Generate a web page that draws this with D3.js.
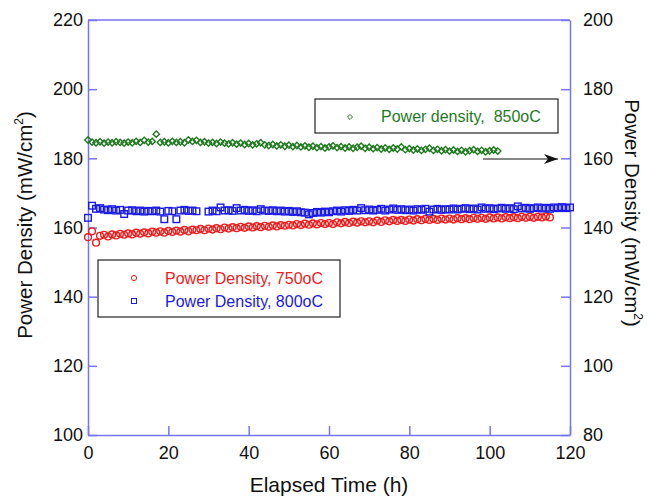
<!DOCTYPE html>
<html>
<head>
<meta charset="utf-8">
<script src="https://d3js.org/d3.v7.min.js"></script>
<style>
  body { margin: 0; background: #fff; }
  text { font-family: "Liberation Sans", Arial, sans-serif; }
</style>
</head>
<body>
<div id="chart"></div>
<script>
// elapsed time (h), one sample per hour
var hours = [0,1,2,3,4,5,6,7,8,9,10,11,12,13,14,15,16,17,18,19,20,21,22,23,24,25,26,27,28,29,
  30,31,32,33,34,35,36,37,38,39,40,41,42,43,44,45,46,47,48,49,50,51,52,53,54,55,56,57,58,59,
  60,61,62,63,64,65,66,67,68,69,70,71,72,73,74,75,76,77,78,79,80,81,82,83,84,85,86,87,88,89,
  90,91,92,93,94,95,96,97,98,99,100,101,102,103,104,105,106,107,108,109,110,111,112,113,114,115,116,117,118,119,120];

// 750oC, left axis
var pd750 = [157.2,158.9,155.6,157.6,157.9,157.4,158.0,157.7,158.2,157.9,
  158.3,158.0,158.5,158.2,158.6,158.3,158.8,158.5,158.9,158.5,
  159.0,158.7,159.1,158.8,159.3,158.9,159.4,159.2,159.6,159.2,
  159.7,159.4,159.8,159.5,160.0,159.7,160.1,159.8,160.2,159.9,
  160.3,160.0,160.4,160.1,160.5,160.2,160.6,160.3,160.7,160.5,
  160.8,160.6,161.0,160.7,161.1,160.8,161.2,160.9,161.3,161.0,
  161.3,161.0,161.5,161.2,161.6,161.3,161.7,161.4,161.8,161.5,
  161.8,161.5,162.0,161.6,162.1,161.8,162.2,161.9,162.2,161.9,
  162.3,162.0,162.4,162.1,162.5,162.2,162.5,162.2,162.6,162.3,
  162.6,162.3,162.7,162.4,162.7,162.4,162.8,162.5,162.8,162.5,
  162.9,162.6,162.9,162.6,163.0,162.7,163.0,162.7,163.1,162.8,
  163.1,162.8,163.1,162.9,163.2,162.9];

// 800oC, left axis (null = no data)
var pd800 = [162.8,166.3,165.4,165.6,165.2,165.0,165.3,164.9,165.1,163.9,
  164.9,165.0,164.7,164.9,164.6,164.8,164.7,164.9,164.6,162.4,
  164.8,164.7,162.4,164.9,165.1,164.8,164.9,164.7,null,null,
  164.6,164.9,164.7,165.8,164.9,165.0,164.8,165.6,164.9,165.1,
  164.8,165.0,164.7,165.3,164.9,164.8,165.0,164.7,164.9,164.6,
  164.8,164.5,164.7,164.4,164.3,163.8,164.2,164.5,164.3,164.6,
  164.4,164.7,164.9,164.6,165.0,164.8,165.1,164.9,165.6,165.0,
  165.2,164.9,165.1,165.4,164.9,165.2,165.5,165.1,165.3,165.0,
  165.2,164.9,165.3,165.1,165.4,164.6,165.2,165.4,165.1,165.3,
  165.2,165.5,165.2,165.4,165.6,165.3,165.5,165.2,165.8,165.4,
  165.6,165.3,165.5,165.7,165.4,165.6,165.3,166.1,165.5,165.7,
  165.4,165.6,165.8,165.5,165.7,165.4,165.8,165.6,165.9,165.6,165.8];

// 850oC, right axis
var pd850 = [165.3,164.7,164.5,164.8,164.4,164.7,164.5,164.8,164.6,164.4,
  164.7,164.5,164.9,164.6,165.2,164.7,164.9,167.0,164.6,164.8,
  164.5,164.9,164.6,164.8,164.5,165.3,164.9,165.2,164.6,164.8,
  164.4,164.6,164.3,164.7,164.4,164.2,164.5,164.1,164.4,164.0,
  164.3,163.9,164.2,164.5,163.9,163.7,164.0,163.6,163.9,163.5,
  163.8,163.4,163.7,163.3,163.6,163.2,163.5,163.1,163.4,163.0,
  163.3,163.6,163.1,163.4,163.0,163.3,162.9,163.2,163.5,162.9,
  163.2,162.8,163.1,162.7,163.0,162.6,163.0,162.7,163.3,162.5,
  162.8,162.4,162.7,162.3,162.6,162.9,162.3,162.6,162.2,162.5,
  162.1,162.4,162.0,162.3,161.9,162.2,162.5,162.0,162.3,161.9,
  162.2,162.4,162.1];

var xTicks = [0, 20, 40, 60, 80, 100, 120];
var yLeftTicks = [100, 120, 140, 160, 180, 200, 220];
var yRightTicks = [80, 100, 120, 140, 160, 180, 200];

var width = 649, height = 496;
var margin = {top: 20, right: 79, bottom: 61, left: 88};
var axisColor = "#7676f0";

var svg = d3.select("#chart")
    .append("svg")
    .attr("width", width)
    .attr("height", height);

var x = d3.scaleLinear().domain([0, 120]).range([margin.left, width - margin.right]);
var yL = d3.scaleLinear().domain([100, 220]).range([height - margin.bottom, margin.top]);
var yR = d3.scaleLinear().domain([80, 200]).range([height - margin.bottom, margin.top]);

// axes, ticks pointing inward
function styleAxis(g) {
  g.select(".domain").attr("stroke", axisColor).attr("stroke-width", 1.5);
  g.selectAll(".tick line").attr("stroke", axisColor).attr("stroke-width", 1.5);
  g.selectAll(".tick text").attr("fill", "#111").attr("font-size", "18px")
    .attr("font-family", "Liberation Sans, Arial, sans-serif");
}

svg.append("g")
   .attr("transform", "translate(0," + (height - margin.bottom) + ")")
   .call(d3.axisBottom(x).tickValues(xTicks).tickSizeInner(-9).tickSizeOuter(0).tickPadding(11))
   .call(styleAxis);

svg.append("g")
   .attr("transform", "translate(" + margin.left + ",0)")
   .call(d3.axisLeft(yL).tickValues(yLeftTicks).tickSizeInner(-9).tickSizeOuter(0).tickPadding(5))
   .call(styleAxis);

svg.append("g")
   .attr("transform", "translate(" + (width - margin.right) + ",0)")
   .call(d3.axisRight(yR).tickValues(yRightTicks).tickSizeInner(-9).tickSizeOuter(0).tickPadding(13))
   .call(styleAxis);

// top frame line
svg.append("line")
   .attr("x1", margin.left).attr("x2", width - margin.right)
   .attr("y1", margin.top).attr("y2", margin.top)
   .attr("stroke", axisColor).attr("stroke-width", 1.5);

// markers
var red = "#ee1c1c", blue = "#1a1ae6", green = "#1f7a1f";

svg.append("g").selectAll("circle")
   .data(pd750)
   .enter().append("circle")
   .attr("cx", function(d, i) { return x(hours[i]); })
   .attr("cy", function(d) { return yL(d); })
   .attr("r", 3.4)
   .attr("fill", "none")
   .attr("stroke", red)
   .attr("stroke-width", 1.4);

svg.append("g").selectAll("rect")
   .data(pd800.map(function(d, i) { return {t: hours[i], v: d}; }).filter(function(d) { return d.v != null; }))
   .enter().append("rect")
   .attr("x", function(d) { return x(d.t) - 3.3; })
   .attr("y", function(d) { return yL(d.v) - 3.3; })
   .attr("width", 6.6)
   .attr("height", 6.6)
   .attr("fill", "none")
   .attr("stroke", blue)
   .attr("stroke-width", 1.4);

var diamond = d3.symbol().type(d3.symbolDiamond2).size(26);
svg.append("g").selectAll("path")
   .data(pd850)
   .enter().append("path")
   .attr("d", diamond)
   .attr("transform", function(d, i) { return "translate(" + x(hours[i]) + "," + yR(d) + ")"; })
   .attr("fill", "none")
   .attr("stroke", green)
   .attr("stroke-width", 1.4);

// legend for 850oC
svg.append("rect")
   .attr("x", 315).attr("y", 99).attr("width", 243).attr("height", 34)
   .attr("fill", "#fff").attr("stroke", "#222").attr("stroke-width", 1.2);
svg.append("path")
   .attr("d", d3.symbol().type(d3.symbolDiamond2).size(16))
   .attr("transform", "translate(350,117)")
   .attr("fill", "none").attr("stroke", green).attr("stroke-width", 1);
svg.append("text")
   .attr("x", 381).attr("y", 122)
   .attr("font-size", "16px").attr("fill", green)
   .attr("xml:space", "preserve")
   .text("Power density,  850oC");

// arrow pointing to right axis
svg.append("defs").append("marker")
   .attr("id", "arrow")
   .attr("viewBox", "0 0 14 10")
   .attr("refX", 14).attr("refY", 5)
   .attr("markerWidth", 14).attr("markerHeight", 10)
   .attr("markerUnits", "userSpaceOnUse")
   .attr("orient", "auto")
   .append("path")
   .attr("d", "M0,0 L14,5 L0,10 L4,5 Z")
   .attr("fill", "#111");
svg.append("line")
   .attr("x1", 483).attr("x2", 558).attr("y1", 159).attr("y2", 159)
   .attr("stroke", "#111").attr("stroke-width", 1.2)
   .attr("marker-end", "url(#arrow)");

// legend for 750oC / 800oC
svg.append("rect")
   .attr("x", 98).attr("y", 260).attr("width", 242).attr("height", 57)
   .attr("fill", "#fff").attr("stroke", "#222").attr("stroke-width", 1.2);
svg.append("circle")
   .attr("cx", 134).attr("cy", 278).attr("r", 2.6)
   .attr("fill", "none").attr("stroke", red).attr("stroke-width", 1);
svg.append("rect")
   .attr("x", 131.5).attr("y", 298.5).attr("width", 5).attr("height", 5)
   .attr("fill", "none").attr("stroke", blue).attr("stroke-width", 1);
svg.append("text")
   .attr("x", 165).attr("y", 284)
   .attr("font-size", "16px").attr("fill", red)
   .text("Power Density, 750oC");
svg.append("text")
   .attr("x", 165).attr("y", 307)
   .attr("font-size", "16px").attr("fill", blue)
   .text("Power Density, 800oC");

// axis titles
svg.append("text")
   .attr("x", x(60)).attr("y", 492)
   .attr("text-anchor", "middle")
   .attr("font-size", "21px").attr("fill", "#111")
   .text("Elapsed Time (h)");

var tl = svg.append("text")
   .attr("transform", "translate(32,225) rotate(-90)")
   .attr("text-anchor", "middle")
   .attr("font-size", "20.5px").attr("fill", "#111");
tl.append("tspan").text("Power Density (mW/cm");
tl.append("tspan").attr("dy", -9).attr("font-size", "12px").text("2");
tl.append("tspan").attr("dy", 9).text(")");

var tr = svg.append("text")
   .attr("transform", "translate(625,213) rotate(90)")
   .attr("text-anchor", "middle")
   .attr("font-size", "20.5px").attr("fill", "#111");
tr.append("tspan").text("Power Density (mW/cm");
tr.append("tspan").attr("dy", -9).attr("font-size", "12px").text("2");
tr.append("tspan").attr("dy", 9).text(")");
</script>
</body>
</html>
